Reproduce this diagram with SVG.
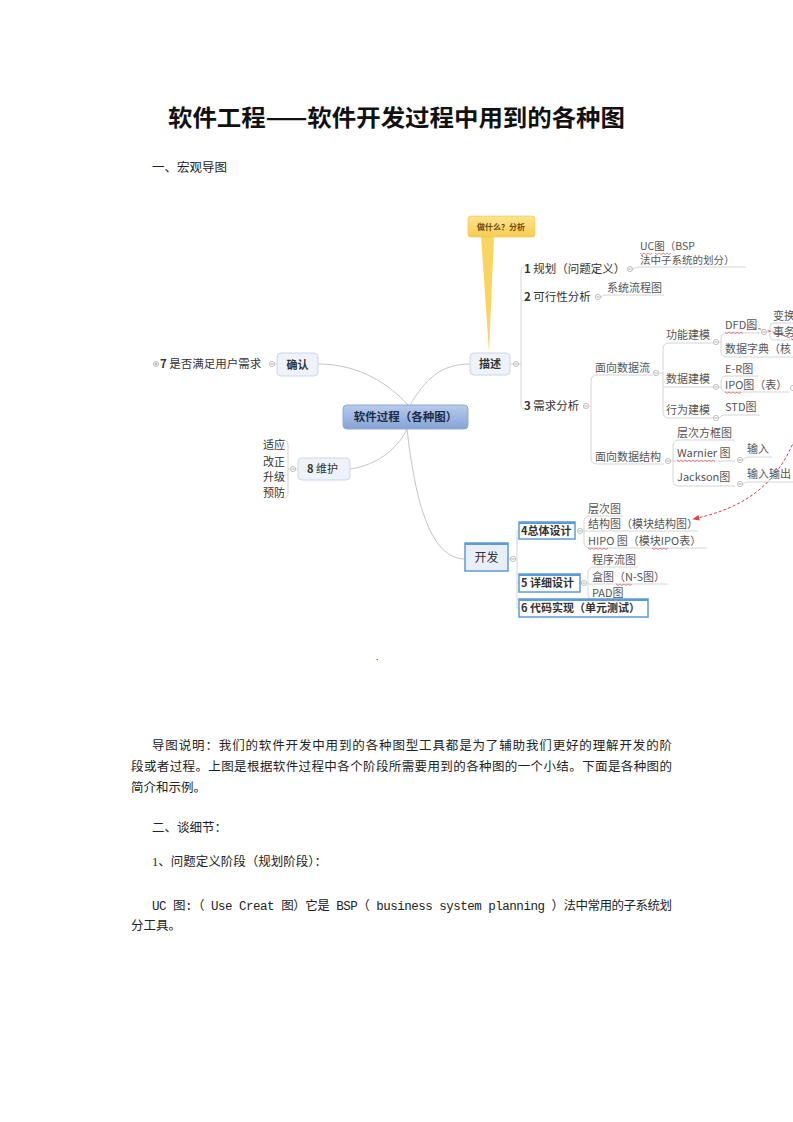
<svg xmlns="http://www.w3.org/2000/svg" width="793" height="1122" viewBox="0 0 793 1122">
<style>
.t{font-family:"Liberation Serif","Noto Sans CJK SC",serif;font-size:12.5px;fill:#222}
.m{font-family:"Noto Sans CJK SC",sans-serif;font-size:11px;fill:#333}
.b{font-weight:bold}
.lf{font-family:"Noto Sans CJK SC",sans-serif;font-size:11px;fill:#555}
.ln{fill:none;stroke:#c4c4c4;stroke-width:1}
.ul{fill:none;stroke:#d4d4d4;stroke-width:1}
.cc{fill:#fff;stroke:#b0b0b0;stroke-width:0.8}
.node{fill:#eef3fb;stroke:#c9d6ea;stroke-width:1}
.sel{fill:#fff;stroke:#5b9bd8;stroke-width:1.5}
.wv{fill:none;stroke:#e05050;stroke-width:0.7}
</style>
<defs>
<linearGradient id="gc" x1="0" y1="0" x2="0" y2="1"><stop offset="0" stop-color="#b7cbec"/><stop offset="1" stop-color="#85a3d5"/></linearGradient>
<linearGradient id="gy" x1="0" y1="0" x2="0" y2="1"><stop offset="0" stop-color="#fde38e"/><stop offset="1" stop-color="#f7cd52"/></linearGradient>
<marker id="ar" viewBox="0 0 10 10" refX="9" refY="5" markerWidth="7" markerHeight="7" orient="auto"><path d="M0,1 L10,5 L0,9 z" fill="#d9404a"/></marker>
</defs>
<rect width="793" height="1122" fill="#fff"/>

<g id="title">
<text x="168" y="126" font-family="Noto Sans CJK SC,sans-serif" font-size="23" font-weight="bold" fill="#111" textLength="457" lengthAdjust="spacingAndGlyphs">软件工程——软件开发过程中用到的各种图</text>
<text class="t" x="152" y="172">一、宏观导图</text>
</g>

<g id="connectors">
<path class="ln" d="M318,364 C360,364 390,385 408,405"/>
<path class="ln" d="M410,405 C425,380 440,364 470,364"/>
<path class="ln" d="M350,469 C380,465 400,445 407,429"/>
<path class="ln" d="M407,429 C415,500 430,559 465,559"/>
<path class="ul" d="M510,364 L521,364 M527,266 Q521,266 521,272 L521,404 Q521,410 527,410 M521,301 L524,301"/>
<path class="ul" d="M633,269 Q636,267 640,267 L746,267"/>
<path class="ul" d="M601,297 Q603,295 606,295 L664,295"/>
<path class="ul" d="M589,406 L591,406 M597,375 Q591,375 591,381 L591,458 Q591,464 597,464 L664,464 M597,375 L653,375"/>
<path class="ul" d="M659,373 L663,373 M669,343 Q663,343 663,349 L663,412 Q663,418 669,418 L713,418 M669,343 L713,343 M663,387 L713,387"/>
<path class="ul" d="M719,342 L721,342 M727,333 Q721,333 721,339 L721,351 Q721,357 727,357 L793,357 M727,333 L760,333"/>
<path class="ul" d="M767,332 L770,332 M774,323 Q770,323 770,327 L770,336 Q770,340 774,340 L793,340 M774,323 L793,323"/>
<path class="ul" d="M719,387 L721,387 M727,376 Q721,376 721,382 L721,386 Q721,392 727,392 L789,392 M727,376 L758,376"/>
<path class="ul" d="M719,418 Q721,415 725,415 L760,415"/>
<path class="ul" d="M671,461 L673,461 M679,440 Q673,440 673,446 L673,480 Q673,486 679,486 L735,486 M679,440 L735,440 M673,461 L735,461"/>
<path class="ul" d="M743,460 Q745,457 749,457 L772,457"/>
<path class="ul" d="M743,484 Q745,482 749,482 L793,482"/>
<path class="ul" d="M275,364 L277,364"/>
<path class="ul" d="M296,469 L298,469 M290,469 L288,469 M283,440 Q288,440 288,445 L288,493 Q288,498 283,498"/>
<path class="ul" d="M508,559 L517,559 M519,531 L517,531 L517,608 L519,608 M517,583 L519,583"/>
<path class="ul" d="M583,531 L584,531 M590,516 Q584,516 584,522 L584,542 Q584,548 590,548 L707,548 M590,516 L623,516 M584,531 L698,531"/>
<path class="ul" d="M587,583 L588,583 M594,567 Q588,567 588,573 L588,594 Q588,600 594,600 L626,600 M594,567 L638,567 M588,584 L668,584"/>
<path d="M748,327 C790,333 812,345 815,370 C818,395 806,412 800,425 C785,470 760,505 693,519" fill="none" stroke="#d9404a" stroke-width="1" stroke-dasharray="3,2" marker-end="url(#ar)"/>
<g>
<circle class="cc" cx="630" cy="269" r="2.6"/><circle class="cc" cx="598" cy="297" r="2.6"/>
<circle class="cc" cx="586" cy="406" r="2.6"/><circle class="cc" cx="656" cy="373" r="2.6"/>
<circle class="cc" cx="668" cy="461" r="2.6"/><circle class="cc" cx="716" cy="342" r="2.6"/>
<circle class="cc" cx="716" cy="387" r="2.6"/><circle class="cc" cx="716" cy="418" r="2.6"/>
<circle class="cc" cx="764" cy="332" r="2.6"/><circle class="cc" cx="793" cy="388" r="2.6"/>
<circle class="cc" cx="740" cy="460" r="2.6"/><circle class="cc" cx="740" cy="484" r="2.6"/>
<circle class="cc" cx="516" cy="364" r="2.6"/><circle class="cc" cx="272" cy="364" r="2.6"/>
<circle class="cc" cx="293" cy="469" r="2.6"/><circle class="cc" cx="513" cy="559" r="2.6"/>
<circle class="cc" cx="580" cy="531" r="2.6"/><circle class="cc" cx="584" cy="583" r="2.6"/>
<circle class="cc" cx="156" cy="364" r="2.6"/>
</g>
<path d="M628.5,269 h3 M596.5,297 h3 M584.5,406 h3 M654.5,373 h3 M666.5,461 h3 M714.5,342 h3 M714.5,387 h3 M714.5,418 h3 M762.5,332 h3 M738.5,460 h3 M738.5,484 h3 M514.5,364 h3 M270.5,364 h3 M291.5,469 h3 M511.5,559 h3 M578.5,531 h3 M582.5,583 h3 M154.5,364 h3 M156,362.5 v3" stroke="#888" stroke-width="0.7"/>
</g>

<g id="callout">
<polygon points="481,236 494,236 489,352" fill="#f9d55f"/>
<rect x="468" y="216" width="67" height="21" rx="3" fill="url(#gy)" stroke="#efc54a" stroke-width="0.6"/>
<text x="477" y="230" font-family="Noto Sans CJK SC,sans-serif" font-size="8" font-weight="bold" fill="#6b4b10">做什么？分析</text>
</g>

<g id="center">
<rect x="343" y="405" width="125" height="24" rx="4" fill="url(#gc)" stroke="#8ea8d2"/>
<text class="m b" x="405.5" y="421" text-anchor="middle" style="font-size:11.5px;fill:#1d2c46">软件过程（各种图）</text>
</g>

<g id="n-confirm">
<rect class="node" x="277" y="353" width="41" height="23" rx="4"/>
<text class="m b" x="297.5" y="368.5" text-anchor="middle">确认</text>
<text class="m" x="160" y="368" style="font-size:11.5px"><tspan class="b">7</tspan> 是否满足用户需求</text>
</g>

<g id="n-maint">
<rect class="node" x="298" y="458" width="52" height="22" rx="4"/>
<text class="m" x="307" y="473"><tspan class="b">8</tspan> 维护</text>
<text class="m" x="285" y="449" text-anchor="end">适应</text>
<text class="m" x="285" y="466" text-anchor="end">改正</text>
<text class="m" x="285" y="481" text-anchor="end">升级</text>
<text class="m" x="285" y="497" text-anchor="end">预防</text>
</g>

<g id="n-desc">
<rect class="node" x="470" y="353" width="40" height="22" rx="4"/>
<text class="m b" x="490" y="368" text-anchor="middle">描述</text>
<text class="m" x="524" y="273" style="font-size:11.5px"><tspan class="b">1</tspan> 规划（问题定义）</text>
<text class="m" x="524" y="301" style="font-size:11.5px"><tspan class="b">2</tspan> 可行性分析</text>
<text class="m" x="524" y="410" style="font-size:11.5px"><tspan class="b">3</tspan> 需求分析</text>
<text class="lf" x="640" y="250" style="font-size:10.5px">UC图（BSP</text>
<text class="lf" x="640" y="264" style="font-size:10.5px">法中子系统的划分）</text>
<text class="lf" x="607" y="292">系统流程图</text>
<text class="lf" x="595" y="372">面向数据流</text>
<text class="lf" x="595" y="461">面向数据结构</text>
<text class="lf" x="666" y="339">功能建模</text>
<text class="lf" x="666" y="383">数据建模</text>
<text class="lf" x="666" y="414">行为建模</text>
<text class="lf" x="725" y="329">DFD图</text>
<text class="lf" x="725" y="353">数据字典（核</text>
<text class="lf" x="773" y="320">变换</text>
<text class="lf" x="773" y="336">事务</text>
<text class="lf" x="725" y="373">E-R图</text>
<text class="lf" x="725" y="389">IPO图（表）</text>
<text class="lf" x="725" y="411">STD图</text>
<text class="lf" x="677" y="437">层次方框图</text>
<text class="lf" x="677" y="457">Warnier 图</text>
<text class="lf" x="677" y="481">Jackson图</text>
<text class="lf" x="747" y="453">输入</text>
<text class="lf" x="747" y="478">输入输出</text>
<path class="wv" d="M640,253 l2,1.5 2,-1.5 2,1.5 2,-1.5 2,1.5 2,-1.5 M655,253 l2,1.5 2,-1.5 2,1.5 2,-1.5 2,1.5 2,-1.5 2,1.5 2,-1.5 M725,332 l2,1.5 2,-1.5 2,1.5 2,-1.5 2,1.5 2,-1.5 2,1.5 2,-1.5 2,1.5 M725,392 l2,1.5 2,-1.5 2,1.5 2,-1.5 2,1.5 2,-1.5 2,1.5 2,-1.5 M677,460 l2,1.5 2,-1.5 2,1.5 2,-1.5 2,1.5 2,-1.5 2,1.5 2,-1.5 2,1.5 2,-1.5 2,1.5 2,-1.5 2,1.5 2,-1.5 2,1.5 2,-1.5 2,1.5 2,-1.5 2,1.5"/>
</g>

<g id="n-dev">
<rect x="465" y="543" width="43" height="28" fill="#e9eff9" stroke="#5b9bd8" stroke-width="1.5"/>
<path d="M465,544 h43" stroke="#5b9bd8" stroke-width="2"/>
<text class="m" x="486.5" y="562" text-anchor="middle" style="font-size:12px">开发</text>
<rect class="sel" x="519" y="522" width="56" height="17"/>
<text class="m b" x="521" y="535">4总体设计</text>
<rect class="sel" x="519" y="574" width="61" height="18"/>
<text class="m b" x="521" y="587">5 详细设计</text>
<rect class="sel" x="519" y="599" width="129" height="18"/>
<text class="m b" x="521" y="612">6 代码实现（单元测试）</text>
<path d="M519,523 h56 M519,575 h61 M519,600 h129" stroke="#5b9bd8" stroke-width="2"/>
<text class="lf" x="588" y="513">层次图</text>
<text class="lf" x="588" y="528">结构图（模块结构图）</text>
<text class="lf" x="588" y="545">HIPO 图（模块IPO表）</text>
<text class="lf" x="592" y="564">程序流图</text>
<text class="lf" x="592" y="581">盒图（N-S图）</text>
<text class="lf" x="592" y="597">PAD图</text>
<path class="wv" d="M588,548 l2,1.5 2,-1.5 2,1.5 2,-1.5 2,1.5 2,-1.5 2,1.5 2,-1.5 2,1.5 2,-1.5 M652,548 l2,1.5 2,-1.5 2,1.5 2,-1.5 2,1.5 2,-1.5 2,1.5 2,-1.5 M616,584 l2,1.5 2,-1.5 2,1.5 2,-1.5 2,1.5 2,-1.5 2,1.5 2,-1.5"/>
</g>

<g id="body">
<text x="376" y="660" font-family="Liberation Serif,serif" font-size="10" fill="#222">.</text>
<text class="t" x="152" y="750" textLength="520" lengthAdjust="spacing">导图说明：我们的软件开发中用到的各种图型工具都是为了辅助我们更好的理解开发的阶</text>
<text class="t" x="131" y="771" textLength="541" lengthAdjust="spacing">段或者过程。上图是根据软件过程中各个阶段所需要用到的各种图的一个小结。下面是各种图的</text>
<text class="t" x="131" y="792">简介和示例。</text>
<text class="t" x="152" y="832">二、谈细节：</text>
<text class="t" x="152" y="866">1、问题定义阶段（规划阶段）：</text>
<text x="152" y="910" font-family="Liberation Mono,Noto Sans CJK SC,monospace" font-size="12.5" fill="#222" textLength="520" lengthAdjust="spacing">UC 图:（ Use Creat 图）它是 BSP（ business system planning ）法中常用的子系统划</text>
<text class="t" x="131" y="930">分工具。</text>
</g>
</svg>
